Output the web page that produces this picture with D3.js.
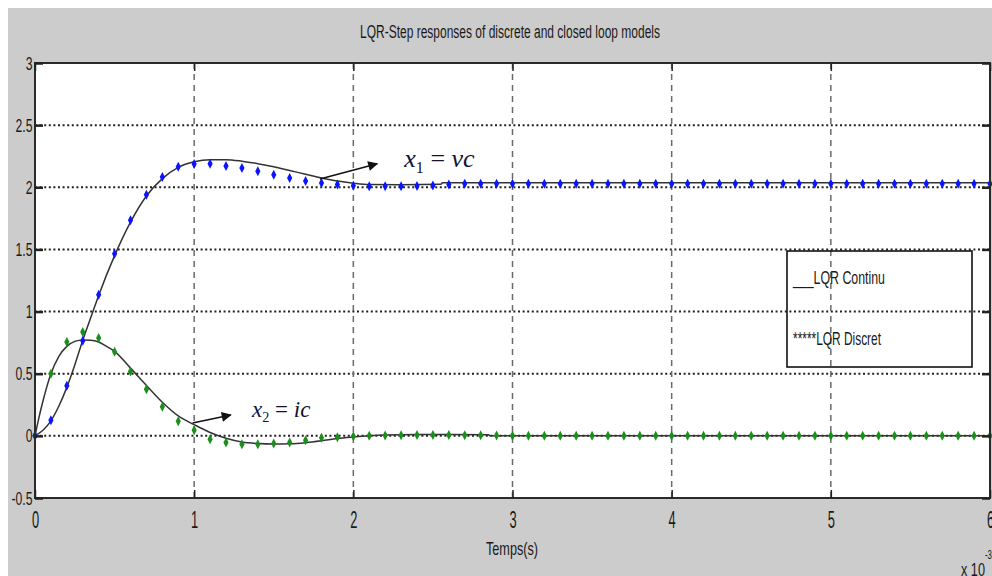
<!DOCTYPE html>
<html>
<head>
<meta charset="utf-8">
<script src="https://cdn.jsdelivr.net/npm/d3@7"></script>
<style>
body { margin: 0; background: #fff; }
svg { display: block; }
text { font-family: "Liberation Sans", Arial, sans-serif; fill: #1a1a1a; }
</style>
</head>
<body>
<div id="chart"></div>
<script>
// temps en ms (x 10^-3 s)
var tDisc = [0, 0.1, 0.2, 0.3, 0.4, 0.5, 0.6, 0.7, 0.8, 0.9, 1.0, 1.1, 1.2, 1.3, 1.4, 1.5, 1.6, 1.7, 1.8, 1.9,
	2.0, 2.1, 2.2, 2.3, 2.4, 2.5, 2.6, 2.7, 2.8, 2.9, 3.0, 3.1, 3.2, 3.3, 3.4, 3.5, 3.6, 3.7, 3.8, 3.9,
	4.0, 4.1, 4.2, 4.3, 4.4, 4.5, 4.6, 4.7, 4.8, 4.9, 5.0, 5.1, 5.2, 5.3, 5.4, 5.5, 5.6, 5.7, 5.8, 5.9, 6.0];

// LQR discret
var x1Disc = [0, 0.126, 0.403, 0.766, 1.135, 1.465, 1.734, 1.94, 2.083, 2.165, 2.187, 2.19, 2.172, 2.155, 2.13, 2.1, 2.075, 2.05, 2.035, 2.022,
	2.012, 2.008, 2.008, 2.008, 2.01, 2.014, 2.022, 2.028, 2.028, 2.028, 2.028, 2.028, 2.028, 2.028, 2.028, 2.028, 2.028, 2.028, 2.028, 2.028,
	2.028, 2.028, 2.028, 2.028, 2.028, 2.028, 2.028, 2.028, 2.028, 2.028, 2.028, 2.028, 2.028, 2.028, 2.028, 2.028, 2.028, 2.028, 2.028, 2.028, 2.028];
var x2Disc = [0, 0.5, 0.755, 0.835, 0.788, 0.676, 0.517, 0.376, 0.235, 0.118, 0.046, -0.027, -0.054, -0.067, -0.067, -0.062, -0.054, -0.035, -0.015, -0.012,
	-0.004, 0, 0.003, 0.005, 0.006, 0.006, 0.006, 0.005, 0.004, 0.002, 0, 0, 0, 0, 0, 0, 0, 0, 0, 0,
	0, 0, 0, 0, 0, 0, 0, 0, 0, 0, 0, 0, 0, 0, 0, 0, 0, 0, 0, 0, 0];

// LQR continu
var t1Cont = [0, 0.05, 0.1, 0.15, 0.2, 0.25, 0.3, 0.35, 0.4, 0.5, 0.6, 0.7, 0.8, 0.9, 1.0, 1.1, 1.2, 1.3, 1.4, 1.5,
	1.6, 1.7, 1.8, 1.9, 2.0, 2.1, 2.3, 2.55, 2.56, 6.0];
var x1Cont = [0, 0.045, 0.12, 0.24, 0.39, 0.57, 0.77, 0.95, 1.13, 1.45, 1.72, 1.93, 2.07, 2.16, 2.205, 2.222, 2.222, 2.21, 2.19, 2.165,
	2.135, 2.105, 2.075, 2.05, 2.033, 2.022, 2.02, 2.024, 2.036, 2.036];
var t2Cont = [0, 0.02, 0.05, 0.1, 0.15, 0.2, 0.25, 0.3, 0.35, 0.4, 0.45, 0.5, 0.6, 0.7, 0.8, 0.9, 1.0, 1.1, 1.2, 1.3,
	1.4, 1.5, 1.6, 1.7, 1.8, 1.9, 2.0, 2.1, 2.2, 2.4, 2.6, 2.85, 2.86, 6.0];
var x2Cont = [0, 0.12, 0.28, 0.5, 0.64, 0.72, 0.76, 0.772, 0.77, 0.755, 0.72, 0.68, 0.545, 0.405, 0.27, 0.16, 0.09, 0.027, -0.02, -0.05,
	-0.062, -0.066, -0.064, -0.055, -0.04, -0.022, -0.01, 0, 0.006, 0.01, 0.01, 0.008, 0, 0];

var xTicks = [0, 1, 2, 3, 4, 5, 6];
var yTicks = [-0.5, 0, 0.5, 1, 1.5, 2, 2.5, 3];
var xTickLabels = ["0", "1", "2", "3", "4", "5", "6"];
var yTickLabels = ["-0.5", "0", "0.5", "1", "1.5", "2", "2.5", "3"];

// fleches et etiquettes [t, y]
var arrow1 = [[1.79, 2.067], [2.15, 2.19]];
var arrow2 = [[0.99, 0.104], [1.23, 0.168]];
var label1Pos = [2.32, 2.164];
var label2Pos = [1.363, 0.152];

var W = 992, H = 576;
var pLeft = 35, pRight = 990, pTop = 63, pBottom = 498;

var svg = d3.select("#chart").append("svg")
	.attr("width", W).attr("height", H);

var defs = svg.append("defs");
defs.append("marker")
	.attr("id", "arrow")
	.attr("viewBox", "0 0 10 10")
	.attr("refX", 9).attr("refY", 5)
	.attr("markerWidth", 11).attr("markerHeight", 10)
	.attr("markerUnits", "userSpaceOnUse")
	.attr("orient", "auto")
	.append("path")
	.attr("d", "M0,0 L10,5 L0,10 Z")
	.attr("fill", "#111");

// fond de la figure
svg.append("rect").attr("x", 8).attr("y", 8).attr("width", W - 8).attr("height", H - 8).attr("fill", "#cccccc");
svg.append("rect").attr("x", pLeft).attr("y", pTop).attr("width", pRight - pLeft).attr("height", pBottom - pTop).attr("fill", "#fff");

var x = d3.scaleLinear().domain([0, 6]).range([pLeft, pRight]);
var y = d3.scaleLinear().domain([-0.5, 3]).range([pBottom, pTop]);

// grille
svg.append("g").selectAll("line")
	.data(yTicks.filter(function (d) { return d > -0.5 && d < 3; }))
	.enter().append("line")
	.attr("x1", pLeft).attr("x2", pRight)
	.attr("y1", function (d) { return y(d); }).attr("y2", function (d) { return y(d); })
	.attr("stroke", "#222").attr("stroke-width", 2).attr("stroke-dasharray", "2,2.6");
svg.append("g").selectAll("line")
	.data(xTicks.filter(function (d) { return d > 0 && d < 6; }))
	.enter().append("line")
	.attr("x1", function (d) { return x(d); }).attr("x2", function (d) { return x(d); })
	.attr("y1", pTop).attr("y2", pBottom)
	.attr("stroke", "#6a6a6a").attr("stroke-width", 1.5).attr("stroke-dasharray", "6,5");

// legende (transparente)
svg.append("rect")
	.attr("x", 787).attr("y", 251).attr("width", 185).attr("height", 116)
	.attr("fill", "none").attr("stroke", "#111").attr("stroke-width", 1.6);
svg.append("text").attr("x", 793).attr("y", 284)
	.attr("font-size", 19).attr("textLength", 92).attr("lengthAdjust", "spacingAndGlyphs")
	.text("___LQR Continu");
svg.append("text").attr("x", 793).attr("y", 345)
	.attr("font-size", 19).attr("textLength", 88).attr("lengthAdjust", "spacingAndGlyphs")
	.text("*****LQR Discret");

// courbes continues
var line = d3.line()
	.x(function (d) { return x(d[0]); })
	.y(function (d) { return y(d[1]); })
	.curve(d3.curveMonotoneX);

svg.append("path")
	.datum(t1Cont.map(function (t, i) { return [t, x1Cont[i]]; }))
	.attr("d", line).attr("fill", "none").attr("stroke", "#333").attr("stroke-width", 1.5);
svg.append("path")
	.datum(t2Cont.map(function (t, i) { return [t, x2Cont[i]]; }))
	.attr("d", line).attr("fill", "none").attr("stroke", "#333").attr("stroke-width", 1.5);

// points discrets
var diamond = "M0,-5 L2.6,0 L0,5 L-2.6,0 Z";
svg.append("g").selectAll("path")
	.data(tDisc.map(function (t, i) { return [t, x2Disc[i]]; }))
	.enter().append("path")
	.attr("d", diamond)
	.attr("transform", function (d) { return "translate(" + x(d[0]) + "," + y(d[1]) + ")"; })
	.attr("fill", "#1b8f1b");
svg.append("g").selectAll("path")
	.data(tDisc.map(function (t, i) { return [t, x1Disc[i]]; }))
	.enter().append("path")
	.attr("d", diamond)
	.attr("transform", function (d) { return "translate(" + x(d[0]) + "," + y(d[1]) + ")"; })
	.attr("fill", "#0a14ff");

// fleches
[arrow1, arrow2].forEach(function (a) {
	svg.append("line")
		.attr("x1", x(a[0][0])).attr("y1", y(a[0][1]))
		.attr("x2", x(a[1][0])).attr("y2", y(a[1][1]))
		.attr("stroke", "#111").attr("stroke-width", 1.5)
		.attr("marker-end", "url(#arrow)");
});

function mathLabel(pos, v, sub, rhs, size) {
	var t = svg.append("text")
		.attr("x", x(pos[0])).attr("y", y(pos[1]))
		.style("font-family", "'Liberation Serif', 'Times New Roman', serif")
		.style("fill", "#121230")
		.attr("font-size", size);
	t.append("tspan").attr("font-style", "italic").text(v);
	t.append("tspan").attr("font-size", size * 0.62).attr("dy", size * 0.22).text(sub);
	t.append("tspan").attr("dy", -size * 0.22).text(" = ");
	t.append("tspan").attr("font-style", "italic").text(rhs);
}
mathLabel(label1Pos, "x", "1", "vc", 26);
mathLabel(label2Pos, "x", "2", "ic", 23);

// cadre des axes
svg.append("rect").attr("x", pLeft).attr("y", pTop).attr("width", pRight - pLeft).attr("height", pBottom - pTop)
	.attr("fill", "none").attr("stroke", "#2b2b2b").attr("stroke-width", 2);

var yAxis = svg.append("g").attr("transform", "translate(" + pLeft + ",0)")
	.call(d3.axisLeft(y).tickValues(yTicks).tickSizeInner(-8).tickSizeOuter(0).tickPadding(4)
		.tickFormat(function (d, i) { return yTickLabels[i]; }));
yAxis.select(".domain").remove();
yAxis.selectAll("line").attr("stroke", "#222").attr("stroke-width", 2.5);
yAxis.selectAll("text").attr("font-size", 19).attr("fill", "#1a1a1a")
	.attr("transform", "scale(0.64,1)");

var rAxis = svg.append("g").attr("transform", "translate(" + pRight + ",0)")
	.call(d3.axisRight(y).tickValues(yTicks).tickSizeInner(-8).tickSizeOuter(0).tickFormat(""));
rAxis.select(".domain").remove();
rAxis.selectAll("line").attr("stroke", "#222").attr("stroke-width", 2.5);

var xAxis = svg.append("g").attr("transform", "translate(0," + pBottom + ")")
	.call(d3.axisBottom(x).tickValues(xTicks).tickSizeInner(-8).tickSizeOuter(0).tickPadding(14)
		.tickFormat(function (d, i) { return xTickLabels[i]; }));
xAxis.select(".domain").remove();
xAxis.selectAll("line").attr("stroke", "#222").attr("stroke-width", 1.5);
xAxis.selectAll("text").attr("font-size", 23).attr("fill", "#1a1a1a")
	.attr("transform", "scale(0.56,1)");

var tAxis = svg.append("g").attr("transform", "translate(0," + pTop + ")")
	.call(d3.axisTop(x).tickValues(xTicks).tickSizeInner(-8).tickSizeOuter(0).tickFormat(""));
tAxis.select(".domain").remove();
tAxis.selectAll("line").attr("stroke", "#222").attr("stroke-width", 1.5);

// textes
svg.append("text").attr("x", 510).attr("y", 38).attr("text-anchor", "middle")
	.attr("font-size", 18).attr("textLength", 300).attr("lengthAdjust", "spacingAndGlyphs")
	.text("LQR-Step responses of discrete and closed loop models");
svg.append("text").attr("x", 512).attr("y", 555).attr("text-anchor", "middle")
	.attr("font-size", 19).attr("textLength", 52).attr("lengthAdjust", "spacingAndGlyphs")
	.text("Temps(s)");
svg.append("text").attr("x", 961).attr("y", 576)
	.attr("font-size", 19).attr("textLength", 24).attr("lengthAdjust", "spacingAndGlyphs")
	.text("x 10");
svg.append("text").attr("x", 985).attr("y", 559)
	.attr("font-size", 13).attr("textLength", 7).attr("lengthAdjust", "spacingAndGlyphs")
	.text("-3");
</script>
</body>
</html>
